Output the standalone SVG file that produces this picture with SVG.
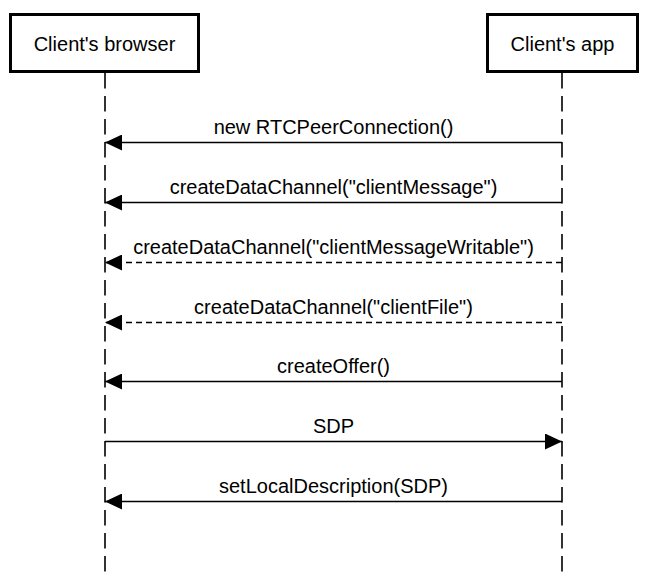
<svg xmlns="http://www.w3.org/2000/svg" width="648" height="576" viewBox="0 0 648 576">
<style>
.box{fill:#fff;stroke:#000;stroke-width:3}
.life{stroke:#000;stroke-width:1.6;stroke-dasharray:15.5 7.5;fill:none}
.msg{stroke:#000;stroke-width:1.5;fill:none}
.dash{stroke-dasharray:6 4}
text{font-family:"Liberation Sans",Arial,sans-serif;font-size:20px;fill:#000;text-anchor:middle}
</style>
<defs>
<marker id="ah" markerWidth="17" markerHeight="16" refX="17" refY="8" orient="auto" markerUnits="userSpaceOnUse">
<path d="M0,0 L17,8 L0,16 Z" fill="#000"/>
</marker>
</defs>
<rect width="648" height="576" fill="#fff"/>
<g id="browser">
<line class="life" x1="105" y1="73" x2="105" y2="576"/>
<rect class="box" x="10.5" y="14.5" width="188" height="57"/>
<text x="104.5" y="51">Client's browser</text>
</g>
<g id="app">
<line class="life" x1="562" y1="73" x2="562" y2="576"/>
<rect class="box" x="487.5" y="14.5" width="150" height="57"/>
<text x="562.5" y="51">Client's app</text>
</g>
<g id="connectors">
<line class="msg" x1="562" y1="142.5" x2="105" y2="142.5" marker-end="url(#ah)"/>
<text x="333.5" y="134">new RTCPeerConnection()</text>
<line class="msg" x1="562" y1="202.5" x2="105" y2="202.5" marker-end="url(#ah)"/>
<text x="333.5" y="194">createDataChannel("clientMessage")</text>
<line class="msg dash" x1="562" y1="262.5" x2="105" y2="262.5" marker-end="url(#ah)"/>
<text x="333.5" y="254">createDataChannel("clientMessageWritable")</text>
<line class="msg dash" x1="562" y1="322.5" x2="105" y2="322.5" marker-end="url(#ah)"/>
<text x="333.5" y="314">createDataChannel("clientFile")</text>
<line class="msg" x1="562" y1="381.5" x2="105" y2="381.5" marker-end="url(#ah)"/>
<text x="333.5" y="373">createOffer()</text>
<line class="msg" x1="105" y1="441.5" x2="562" y2="441.5" marker-end="url(#ah)"/>
<text x="333.5" y="433">SDP</text>
<line class="msg" x1="562" y1="501.5" x2="105" y2="501.5" marker-end="url(#ah)"/>
<text x="333.5" y="493">setLocalDescription(SDP)</text>
</g>
</svg>
